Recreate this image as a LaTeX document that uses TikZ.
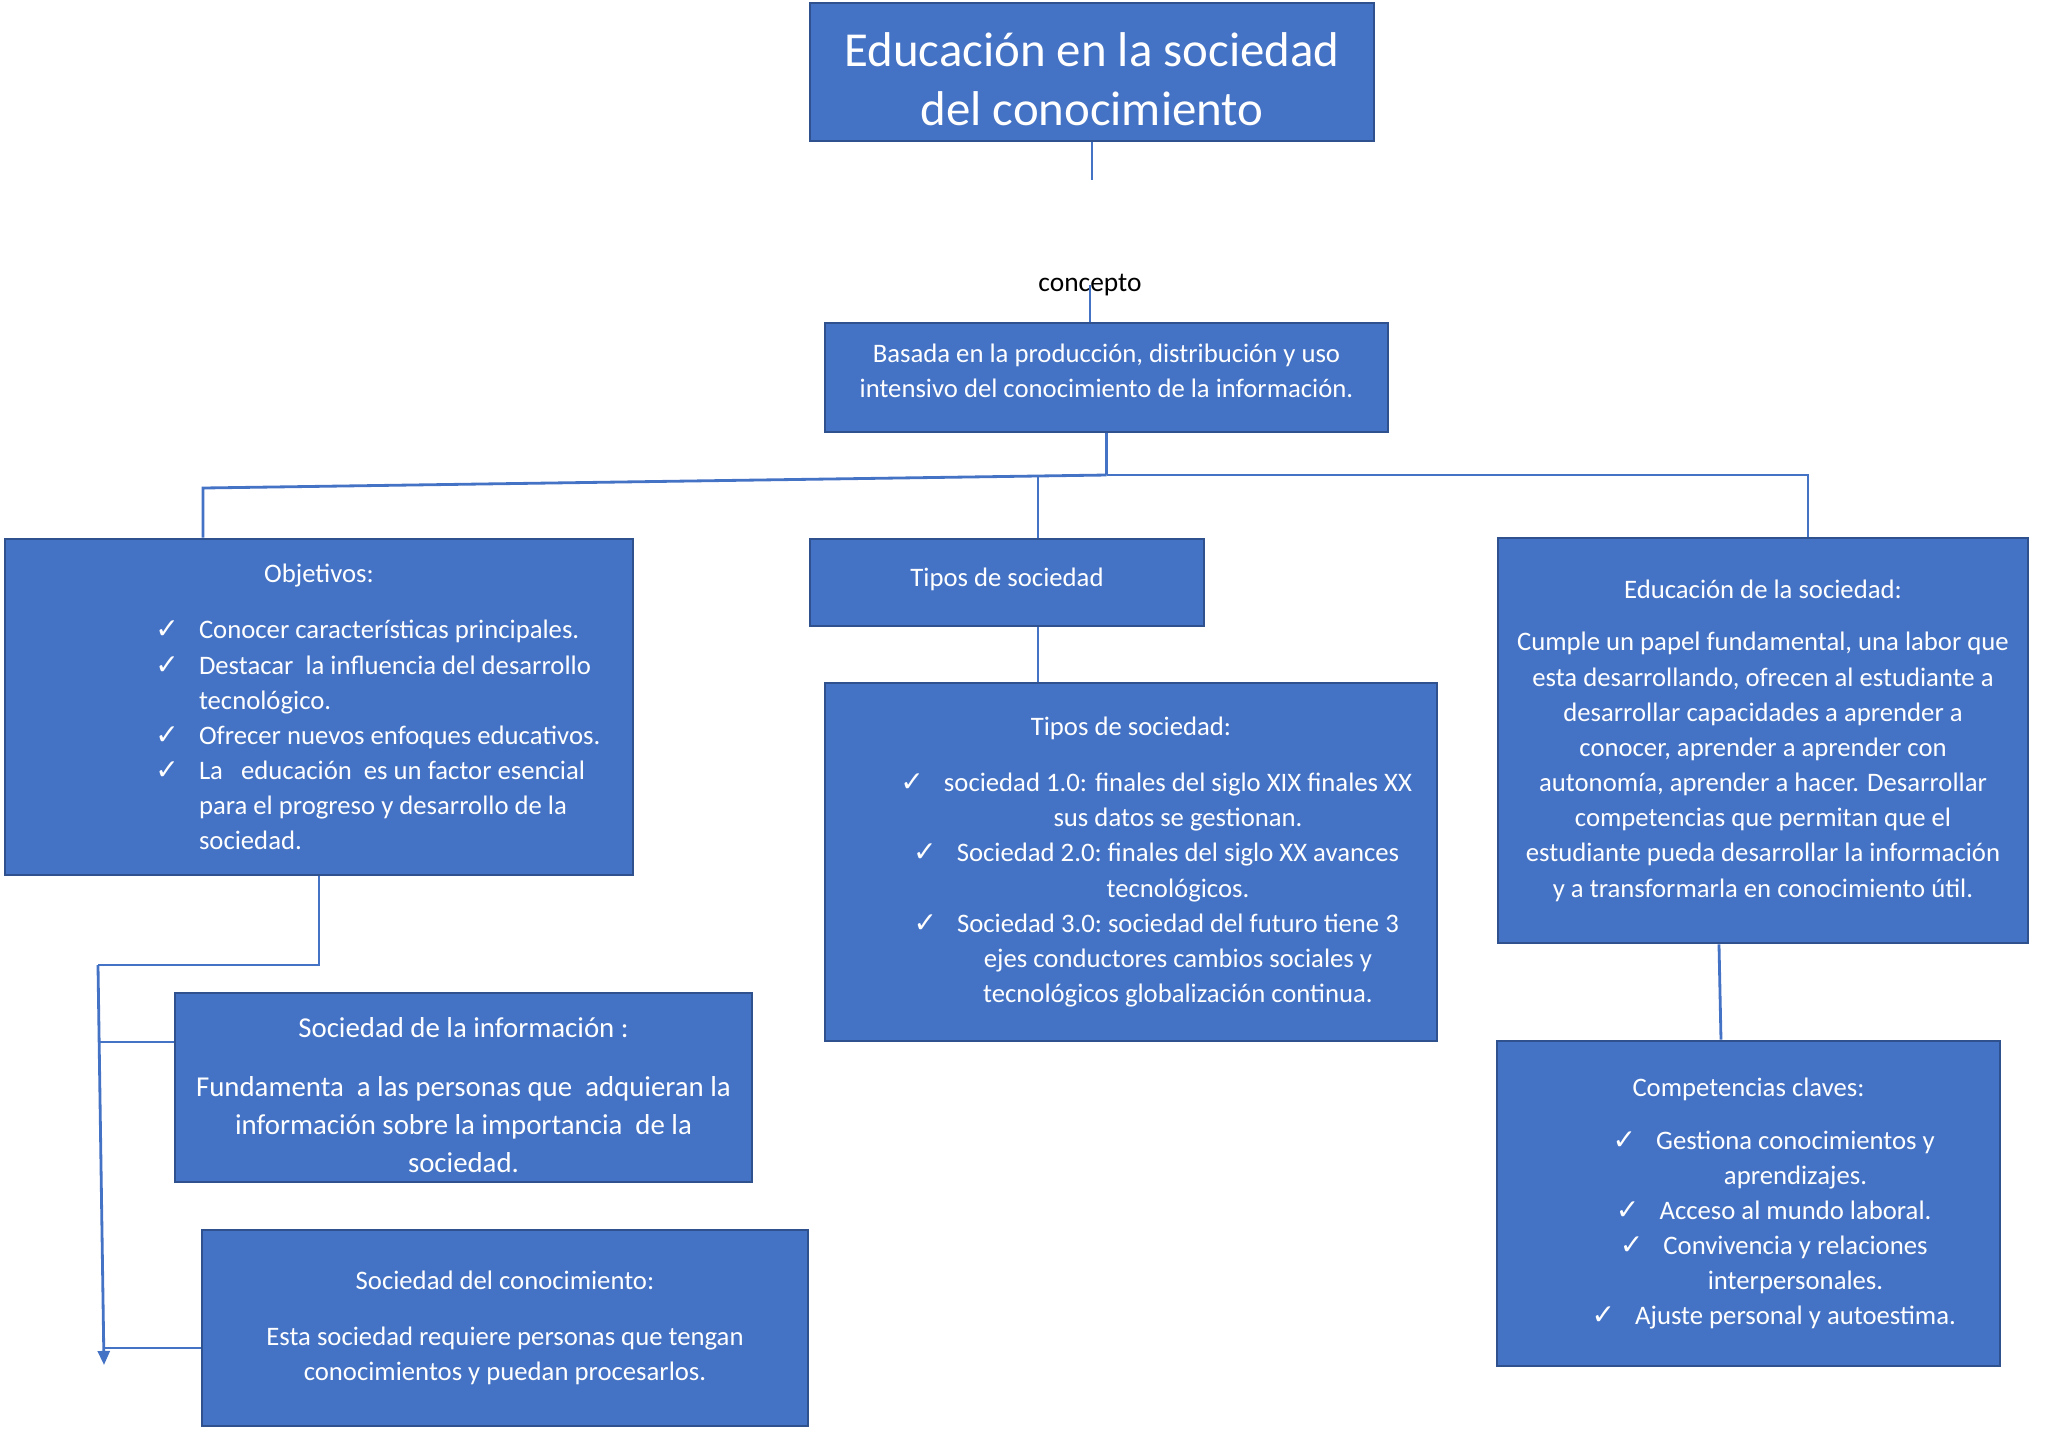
\documentclass[tikz,border=0pt]{standalone}
\usepackage{fontspec}
\setmainfont{Carlito}
\newfontfamily\symfont{DejaVu Sans}
\usepackage{xcolor}
\usetikzlibrary{arrows.meta,positioning}
\definecolor{boxblue}{HTML}{4472C4}
\definecolor{boxedge}{HTML}{2F528F}
\newcommand{\ck}{\leavevmode\llap{{\symfont\fontsize{8}{8}\selectfont ✓}\hspace{0.2cm}}}
\newcommand{\sh}{\hspace*{0.94cm}}

\begin{document}
\begin{tikzpicture}[
  box/.style={rectangle,draw=boxedge,line width=0.8pt,fill=boxblue,text=white,align=center,inner sep=0pt},
  body/.style={font=\fontsize{7.6}{10}\selectfont},
  link/.style={draw=boxblue,line width=0.8pt},
  arrow/.style={link,-{Triangle[length=4pt,width=3.4pt]}}
]
  \useasboundingbox (0,0) rectangle (20.48,-14.48);

  \node[box,minimum width=5.64cm,minimum height=1.38cm,font=\fontsize{13.9}{16.8}\selectfont] (title) at (10.92,-0.72) {\rule{0pt}{14pt}Educación en la sociedad\\del conocimiento};
  \coordinate[below=0.38cm of title.south] (titletail);
  \node[font=\fontsize{7.8}{9}\selectfont] (concepto) at (10.9,-2.85) {concepto};
  \node[box,body,minimum width=5.63cm,minimum height=1.09cm] (basada) at (11.065,-3.775) {Basada en la producción, distribución y uso\\intensivo del conocimiento de la información.\rule[-4pt]{0pt}{4pt}};

  \node[box,body,minimum width=6.28cm,minimum height=3.36cm] (objetivos) at (3.19,-7.07) {%
    \begin{minipage}{6cm}\centering Objetivos:\par\vspace{6pt}
      \raggedright\leftskip=1.8cm
      \ck Conocer características principales.\par
      \ck Destacar\ \ la influencia del desarrollo\\tecnológico.\par
      \ck Ofrecer nuevos enfoques educativos.\par
      \ck La\ \ \ educación\ \ es un factor esencial\\para el progreso y desarrollo de la\\sociedad.\par
    \end{minipage}};
  \node[box,body,minimum width=3.94cm,minimum height=0.87cm] (tipos) at (10.07,-5.825) {Tipos de sociedad\rule[-3pt]{0pt}{3pt}};
  \node[box,body,minimum width=6.12cm,minimum height=3.58cm] (tiposdet) at (11.31,-8.62) {Tipos de sociedad:\\[6pt]
    \sh\ck sociedad 1.0: finales del siglo XIX finales XX\\
    \sh sus datos se gestionan.\\
    \sh\ck Sociedad 2.0:\ finales del siglo XX avances\\
    \sh tecnológicos.\\
    \sh\ck Sociedad 3.0:\ sociedad del futuro tiene 3\\
    \sh ejes conductores cambios sociales y\\
    \sh tecnológicos globalización continua.};
  \node[box,body,minimum width=5.30cm,minimum height=4.05cm] (educacion) at (17.63,-7.405) {Educación de la sociedad:\\[5pt]
    Cumple un papel fundamental, una labor que\\
    esta desarrollando, ofrecen al estudiante a\\
    desarrollar capacidades a aprender a\\
    conocer, aprender a aprender con\\
    autonomía, aprender a hacer. Desarrollar\\
    competencias que permitan que el\\
    estudiante pueda desarrollar la información\\
    y a transformarla en conocimiento útil.};
  \node[box,body,minimum width=5.03cm,minimum height=3.25cm] (competencias) at (17.485,-12.035) {Competencias claves:\\[5pt]
    \sh\ck Gestiona conocimientos y\\
    \sh aprendizajes.\\
    \sh\ck Acceso al mundo laboral.\\
    \sh\ck Convivencia y relaciones\\
    \sh interpersonales.\\
    \sh\ck Ajuste personal y autoestima.};
  \node[box,font=\fontsize{8.2}{10.8}\selectfont,minimum width=5.77cm,minimum height=1.89cm] (socinfo) at (4.635,-10.875) {\rule{0pt}{10pt}Sociedad de la información :\\[6pt]
    Fundamenta\ \ a las personas que\ \ adquieran la\\
    información sobre la importancia\ \ de la\\
    sociedad.};
  \node[box,body,minimum width=6.06cm,minimum height=1.96cm] (socconoc) at (5.05,-13.28) {Sociedad del conocimiento:\\[6pt]
    Esta sociedad requiere personas que tengan\\
    conocimientos y puedan procesarlos.};

  \coordinate (hub) at (11.065,-4.75);
  \coordinate (leftturn) at (2.03,-4.88);
  \coordinate (midturn) at (10.38,-4.77);
  \coordinate (rightturn) at (18.08,-4.75);
  \coordinate (bend) at (0.98,-9.65);
  \coordinate (tip) at (1.04,-13.65);

  \draw[link] (title.south) -- (titletail);
  \draw[link] (concepto.center) -- (concepto.center |- basada.north);
  \draw[link] (basada.south) -- (hub);
  \draw[link] (hub) -- (leftturn) -- (leftturn |- objetivos.north);
  \draw[link] (hub) -- (rightturn) -- (rightturn |- educacion.north);
  \draw[link] (midturn) -- (midturn |- tipos.north);
  \draw[link] (tipos.south -| midturn) -- (midturn |- tiposdet.north);
  \draw[link] ([xshift=-0.44cm]educacion.south) -- ([xshift=-0.275cm]competencias.north);
  \draw[link] (objetivos.south) |- (bend);
  \draw[arrow] (bend) -- (tip);
  \draw[link] ([yshift=0.455cm]socinfo.west) -- ([yshift=0.455cm]socinfo.west -| bend);
  \draw[link] ([yshift=-0.2cm]socconoc.west) -- ([yshift=-0.2cm]socconoc.west -| tip);
\end{tikzpicture}
\end{document}
